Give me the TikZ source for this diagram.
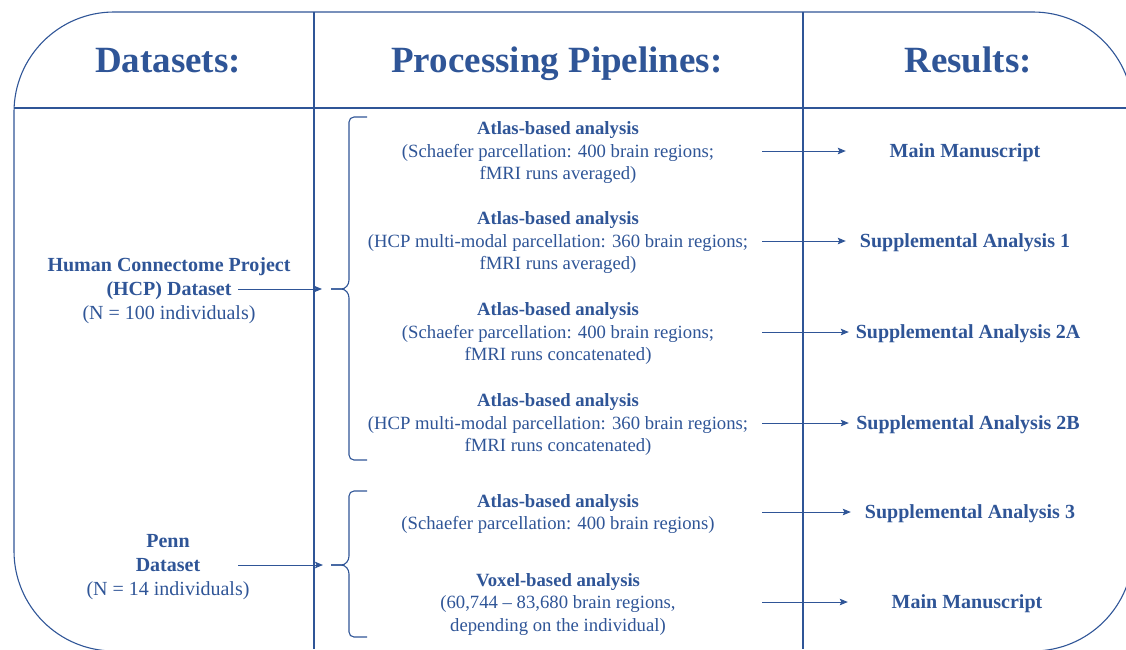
\documentclass[tikz,border=0pt]{standalone}
\usepackage{fontspec}
\setmainfont{Liberation Serif}
\usepackage{tikz}
\usetikzlibrary{positioning, arrows.meta}
\definecolor{inkblue}{RGB}{47,85,151}

\begin{document}
\begin{tikzpicture}[
  x=1pt, y=-1pt,
  frame/.style={draw=inkblue, line width=1.1pt},
  heading/.style={font=\fontsize{37}{44}\selectfont\bfseries, text=inkblue,
    inner sep=0pt, anchor=base},
  dataset/.style={font=\fontsize{20}{24}\selectfont, text=inkblue,
    align=center, inner sep=0pt, text depth=0pt},
  pipeline/.style={font=\fontsize{18.7}{22.5}\selectfont, text=inkblue,
    align=center, inner sep=0pt, minimum width=408pt, text depth=0pt},
  result/.style={font=\fontsize{20}{24}\selectfont\bfseries, text=inkblue,
    inner sep=0pt, minimum width=238pt, text depth=0pt},
  brace/.style={draw=inkblue, line width=1.1pt},
  flow/.style={-{Stealth[length=8pt, width=6.5pt, inset=1.5pt]},
    draw=inkblue, line width=1pt},
]

% ── Canvas ───────────────────────────────────────────────
\useasboundingbox (0,0) rectangle (1126,649);
\clip (0,0) rectangle (1126,649);

% ── Table frame ──────────────────────────────────────────
\draw[frame, rounded corners=100pt] (14,12) rectangle (1133,651);
\draw[frame] (14,108) -- (1133,108);
\draw[frame] (314,12) -- (314,649);
\draw[frame] (803,12) -- (803,649);

% ── Column headings ──────────────────────────────────────
\node[heading] (hdata) at (168,72) {Datasets:};
\node[heading] (hpipe) at (557,72) {Processing Pipelines:};
\node[heading] (hres)  at (968,72) {Results:};

% ── Datasets ─────────────────────────────────────────────
\node[dataset] (hcp) at (169,289)
  {\textbf{Human Connectome Project}\\\textbf{(HCP) Dataset}\\(N = 100 individuals)};
\node[dataset] (penn) at (168,565)
  {\textbf{Penn}\\\textbf{Dataset}\\(N = 14 individuals)};

\coordinate (hcpout)  at (238,289);
\coordinate (pennout) at (238,565);

% Brace tips
\coordinate (b1) at (331,289);
\coordinate (b2) at (331,565);

% HCP brace
\draw[brace] (367,117) -- (354,117) to[out=180,in=90] (349,122) -- (349,280)
  to[out=-90,in=0] (341,289) -- (b1);
\draw[brace] (b1) -- (341,289) to[out=0,in=90] (349,298) -- (349,455)
  to[out=-90,in=180] (354,460) -- (367,460);

% Penn brace
\draw[brace] (367,491) -- (354,491) to[out=180,in=90] (349,496) -- (349,556)
  to[out=-90,in=0] (341,565) -- (b2);
\draw[brace] (b2) -- (341,565) to[out=0,in=90] (349,574) -- (349,632)
  to[out=-90,in=180] (354,637) -- (367,637);

\draw[flow, shorten >=9pt] (hcpout) -- (b1);
\draw[flow, shorten >=8pt] (pennout) -- (b2);

% ── Processing pipelines ─────────────────────────────────
\node[pipeline] (p1) at (558,151)
  {\textbf{Atlas-based analysis}\\(Schaefer parcellation: 400 brain regions;\\fMRI runs averaged)};
\node[pipeline] (p2) at (558,241)
  {\textbf{Atlas-based analysis}\\(HCP multi-modal parcellation: 360 brain regions;\\fMRI runs averaged)};
\node[pipeline] (p3) at (558,332)
  {\textbf{Atlas-based analysis}\\(Schaefer parcellation: 400 brain regions;\\fMRI runs concatenated)};
\node[pipeline] (p4) at (558,423)
  {\textbf{Atlas-based analysis}\\(HCP multi-modal parcellation: 360 brain regions;\\fMRI runs concatenated)};
\node[pipeline] (p5) at (558,512)
  {\textbf{Atlas-based analysis}\\(Schaefer parcellation: 400 brain regions)};
\node[pipeline] (p6) at (558,602)
  {\textbf{Voxel-based analysis}\\(60,744 -- 83,680 brain regions,\\depending on the individual)};

% ── Results ──────────────────────────────────────────────
\node[result] (r1) at (965,151) {Main Manuscript};
\node[result] (r2) at (965,241) {Supplemental Analysis 1};
\node[result] (r3) at (968,332) {Supplemental Analysis 2A};
\node[result] (r4) at (968,423) {Supplemental Analysis 2B};
\node[result] (r5) at (970,512) {Supplemental Analysis 3};
\node[result] (r6) at (967,602) {Main Manuscript};

\draw[flow] (p1.east) -- (r1.west);
\draw[flow] (p2.east) -- (r2.west);
\draw[flow] (p3.east) -- (r3.west);
\draw[flow] (p4.east) -- (r4.west);
\draw[flow] (p5.east) -- (r5.west);
\draw[flow] (p6.east) -- (r6.west);

\end{tikzpicture}
\end{document}
